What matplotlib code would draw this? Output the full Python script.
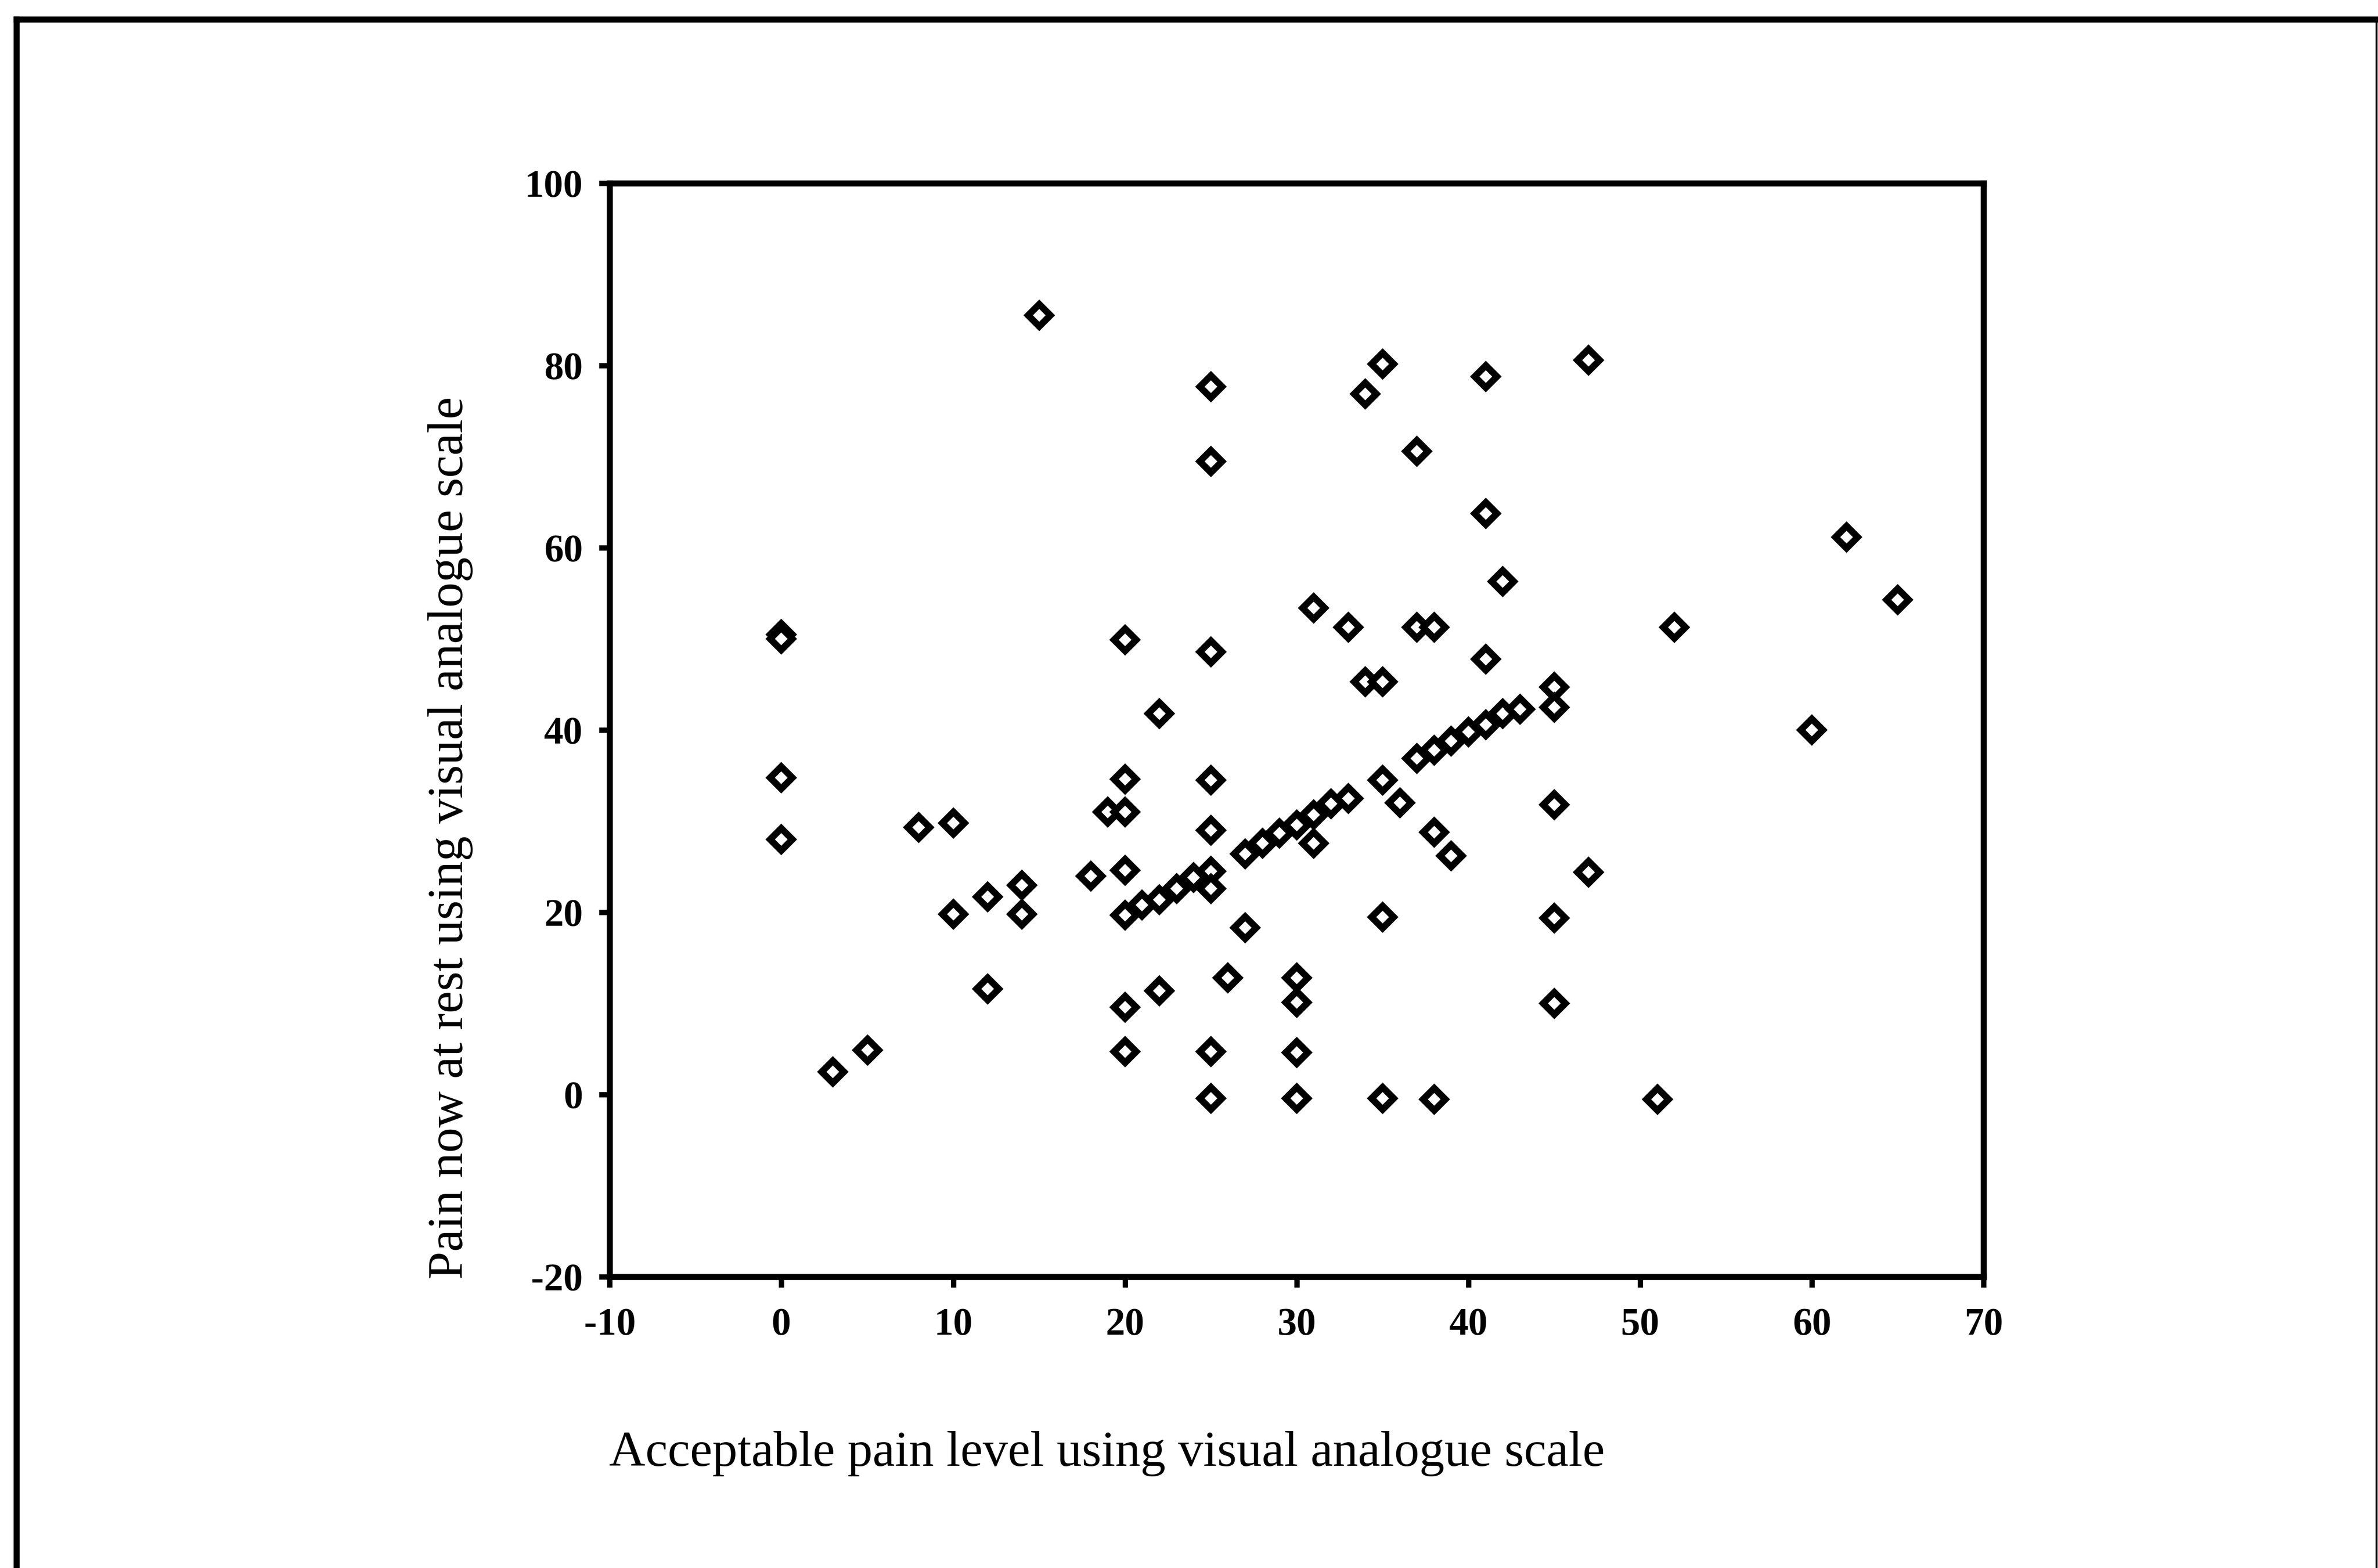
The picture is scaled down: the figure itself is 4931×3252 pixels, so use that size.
import matplotlib
matplotlib.use("Agg")
import matplotlib.pyplot as plt
from matplotlib.lines import Line2D

# 데이터
acceptable = [15, 25, 25, 35, 34, 37, 41, 47, 41, 42, 62, 65, 31, 33, 37, 38, 52, 41, 34, 35,
              45, 45, 60, 0, 0, 20, 25, 22, 0, 0, 3, 5, 8, 10, 10, 12, 12, 14, 14, 18,
              19, 20, 20, 20, 20, 21, 22, 23, 24, 25, 25, 25, 25, 27, 28, 29, 30, 31, 32, 33,
              31, 35, 36, 37, 38, 39, 40, 41, 42, 43, 45, 38, 39, 47, 35, 45, 27, 26, 22, 20,
              20, 25, 25, 30, 30, 30, 30, 45, 35, 38, 51]
pain_rest = [85.5, 77.7, 69.5, 80.2, 76.9, 70.6, 78.8, 80.6, 63.8, 56.3, 61.2, 54.3, 53.4, 51.3, 51.3, 51.3, 51.3, 47.8, 45.3, 45.3,
             44.7, 42.5, 40.0, 50.5, 50.0, 49.9, 48.6, 41.8, 34.8, 28.0, 2.5, 4.9, 29.3, 29.8, 19.8, 21.7, 11.6, 23.0, 19.8, 24.0,
             31.0, 31.0, 34.6, 24.6, 19.7, 20.8, 21.4, 22.6, 23.8, 24.5, 22.6, 34.5, 29.0, 26.4, 27.6, 28.7, 29.6, 30.7, 31.9, 32.5,
             27.6, 34.5, 32.0, 36.9, 37.8, 38.8, 39.8, 40.6, 41.8, 42.3, 31.8, 28.8, 26.2, 24.4, 19.5, 19.4, 18.3, 12.8, 11.4, 9.6,
             4.7, 4.7, -0.4, 12.8, 10.1, 4.6, -0.4, 10.0, -0.4, -0.5, -0.5]

x_ticks = [-10, 0, 10, 20, 30, 40, 50, 60, 70]
y_ticks = [-20, 0, 20, 40, 60, 80, 100]

plt.rcParams['font.family'] = ['Liberation Serif', 'DejaVu Serif']

fig = plt.figure(figsize=(49.31, 32.52), dpi=100)
ax = fig.add_axes([0.2564, 0.1857, 0.5778, 0.6973])

ax.plot(acceptable, pain_rest, linestyle='none', marker='D', markersize=23,
        markerfacecolor='white', markeredgecolor='black', markeredgewidth=10)

ax.set_xlim(-10, 70)
ax.set_ylim(-20, 100)
ax.set_xticks(x_ticks)
ax.set_yticks(y_ticks)
ax.set_xticklabels([str(t) for t in x_ticks], fontsize=58, fontweight='bold')
ax.set_yticklabels([str(t) for t in y_ticks], fontsize=58, fontweight='bold')
ax.tick_params(axis='x', direction='out', length=16, width=8, pad=30)
ax.tick_params(axis='y', direction='out', length=16, width=8, pad=24)

for s in ax.spines.values():
    s.set_linewidth(9)

# 축 제목
fig.text(0.4656, 0.073, 'Acceptable pain level using visual analogue scale',
         fontsize=75, ha='center', va='center')
fig.text(0.1894, 0.4655, 'Pain now at rest using visual analogue scale',
         fontsize=75, ha='center', va='center', rotation=90)

# 바깥 테두리 (아래쪽 없음)
fig.add_artist(Line2D([0.0068, 0.0068], [0.0, 0.9877], color='black', lw=9, transform=fig.transFigure))
fig.add_artist(Line2D([0.0068, 0.9994], [0.9877, 0.9877], color='black', lw=9, transform=fig.transFigure))
fig.add_artist(Line2D([0.9994, 0.9994], [0.0, 0.9877], color='black', lw=3, transform=fig.transFigure))

fig.savefig('out.png', dpi=100, facecolor='white')
